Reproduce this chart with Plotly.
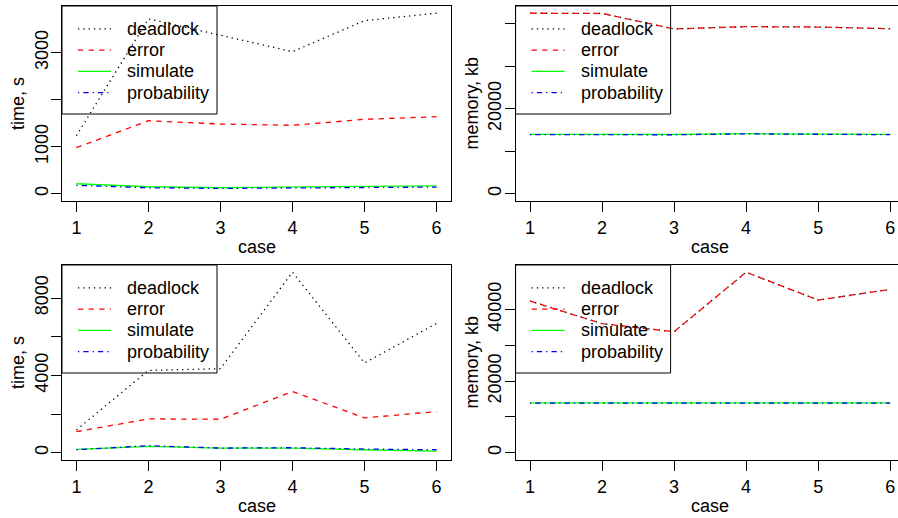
import plotly.graph_objects as go

W, H = 898, 518

cases = [1, 2, 3, 4, 5, 6]
series_names = ["deadlock", "error", "simulate", "probability"]

# panel 1: time, s (top-left)
time_a_deadlock = [1234, 3717, 3370, 3021, 3681, 3838]
time_a_error = [979, 1553, 1483, 1455, 1583, 1638]
time_a_simulate = [213, 149, 128, 135, 156, 170]
time_a_probability = [179, 128, 115, 128, 142, 142]

# panel 2: memory, kb (top-right)
mem_a_deadlock = [42450, 42400, 38750, 39300, 39200, 38800]
mem_a_error = [42450, 42400, 38750, 39300, 39200, 38800]
mem_a_simulate = [13980, 13980, 13940, 14120, 14050, 13980]
mem_a_probability = [13900, 13900, 13880, 14080, 13980, 13900]

# panel 3: time, s (bottom-left)
time_b_deadlock = [1179, 4260, 4348, 9335, 4644, 6686]
time_b_error = [1091, 1751, 1733, 3169, 1803, 2130]
time_b_simulate = [177, 332, 244, 244, 156, 88]
time_b_probability = [156, 367, 244, 261, 192, 156]

# panel 4: memory, kb (bottom-right)
mem_b_deadlock = [42366, 36056, 33803, 50423, 42648, 45634]
mem_b_error = [42366, 36056, 33803, 50423, 42648, 45634]
mem_b_simulate = [13915, 13915, 13915, 13915, 13915, 13915]
mem_b_probability = [13880, 13880, 13880, 13880, 13880, 13880]

x_ticks = [1, 2, 3, 4, 5, 6]
x_ticklabels = ["1", "2", "3", "4", "5", "6"]
y_ticks_time_a = [0, 1000, 2000, 3000]
y_labels_time_a = ["0", "1000", "", "3000"]
y_ticks_time_b = [0, 2000, 4000, 6000, 8000]
y_labels_time_b = ["0", "", "4000", "", "8000"]
y_ticks_mem = [0, 10000, 20000, 30000, 40000]
y_labels_mem = ["0", "", "20000", "", "40000"]

x_title = "case"
y_title_time = "time, s"
y_title_mem = "memory, kb"

colors = ["#000000", "#FF0000", "#00FF00", "#0000FF"]
dashes = ["1.3px,4px", "5.3px,5.3px", "solid", "1.3px,4px,5.3px,4px"]

FONT = "Liberation Sans, Arial, Helvetica, sans-serif"
FS = 18

# panel boxes in pixels: (left, top, right, bottom)
boxes = [
    (62, 6, 451, 201),
    (515.6, 6, 898, 201),
    (62, 265, 451, 460),
    (515.6, 265, 898, 460),
]
px_per_case = 389.0 / 5.4

panels = [
    ([time_a_deadlock, time_a_error, time_a_simulate, time_a_probability], y_ticks_time_a, y_labels_time_a, y_title_time),
    ([mem_a_deadlock, mem_a_error, mem_a_simulate, mem_a_probability], y_ticks_mem, y_labels_mem, y_title_mem),
    ([time_b_deadlock, time_b_error, time_b_simulate, time_b_probability], y_ticks_time_b, y_labels_time_b, y_title_time),
    ([mem_b_deadlock, mem_b_error, mem_b_simulate, mem_b_probability], y_ticks_mem, y_labels_mem, y_title_mem),
]

# legend geometry (pixels, relative to panel box top-left)
LEG_W, LEG_H = 155, 108
LEG_ROW0, LEG_ROW_STEP = 22.8, 21.3
LEG_LINE_X0, LEG_LINE_X1, LEG_TEXT_X = 16, 49, 63


def px(xp):
    return xp / W


def py(yp):
    return 1 - yp / H


fig = go.Figure()
annotations = []
shapes = []
layout = {}
for i, (data, yt, yl, ytitle) in enumerate(panels):
    n = i + 1
    sfx = "" if n == 1 else str(n)
    for name, vals, c, d in zip(series_names, data, colors, dashes):
        fig.add_trace(go.Scatter(
            x=cases, y=vals, name=name, mode="lines",
            line=dict(color=c, width=1.3, dash=d),
            xaxis="x" + sfx, yaxis="y" + sfx, showlegend=False,
        ))
    l, t, r, b = boxes[i]
    allv = [v for s in data for v in s]
    lo, hi = 0, max(allv)
    ext = 0.04 * (hi - lo)
    x_hi = 0.8 + (r - l) / px_per_case
    right_panel = (i % 2 == 1)
    layout["xaxis" + sfx] = dict(
        domain=[px(l), px(r)], range=[0.8, x_hi], anchor="y" + sfx,
        tickvals=x_ticks, ticktext=x_ticklabels, ticks="outside", ticklen=10,
        tickwidth=1, tickcolor="black", showline=True, linecolor="black",
        linewidth=1, mirror=True, showgrid=False, zeroline=False,
        tickfont=dict(family=FONT, size=FS, color="black"),
    )
    layout["yaxis" + sfx] = dict(
        domain=[py(b), py(t)], range=[lo - ext, hi + ext], anchor="x" + sfx,
        tickvals=yt, ticktext=yl, ticks="outside", ticklen=10, tickwidth=1,
        tickcolor="black", showline=True, linecolor="black", linewidth=1,
        mirror=(not right_panel), showgrid=False, zeroline=False, tickangle=-90,
        ticklabelstandoff=-4,
        tickfont=dict(family=FONT, size=FS, color="black"),
    )
    # legend box (transparent, like R's legend())
    shapes.append(dict(
        type="rect", xref="paper", yref="paper",
        x0=px(l), x1=px(l + LEG_W), y0=py(t + LEG_H), y1=py(t),
        line=dict(color="black", width=1), fillcolor="rgba(0,0,0,0)", layer="above",
    ))
    for k, (name, c, d) in enumerate(zip(series_names, colors, dashes)):
        yrow = t + LEG_ROW0 + k * LEG_ROW_STEP
        shapes.append(dict(
            type="line", xref="paper", yref="paper",
            x0=px(l + LEG_LINE_X0), x1=px(l + LEG_LINE_X1), y0=py(yrow), y1=py(yrow),
            line=dict(color=c, width=1.3, dash=d), layer="above",
        ))
        annotations.append(dict(
            text=name, x=px(l + LEG_TEXT_X), y=py(yrow), xref="paper", yref="paper",
            xanchor="left", yanchor="middle", showarrow=False,
            font=dict(family=FONT, size=FS, color="black"),
        ))
    # axis titles
    cx = l + 389 / 2
    annotations.append(dict(
        text=x_title, x=px(cx), y=py(b + 46), xref="paper", yref="paper",
        xanchor="center", yanchor="middle", showarrow=False,
        font=dict(family=FONT, size=FS, color="black"),
    ))
    annotations.append(dict(
        text=ytitle, x=px(l - 44.5), y=py((t + b) / 2), xref="paper", yref="paper",
        xanchor="center", yanchor="middle", showarrow=False, textangle=-90,
        font=dict(family=FONT, size=FS, color="black"),
    ))

fig.update_layout(
    width=W, height=H, margin=dict(l=0, r=0, t=0, b=0),
    paper_bgcolor="white", plot_bgcolor="white", showlegend=False,
    annotations=annotations, shapes=shapes, **layout,
)
fig.write_html("out.html")
